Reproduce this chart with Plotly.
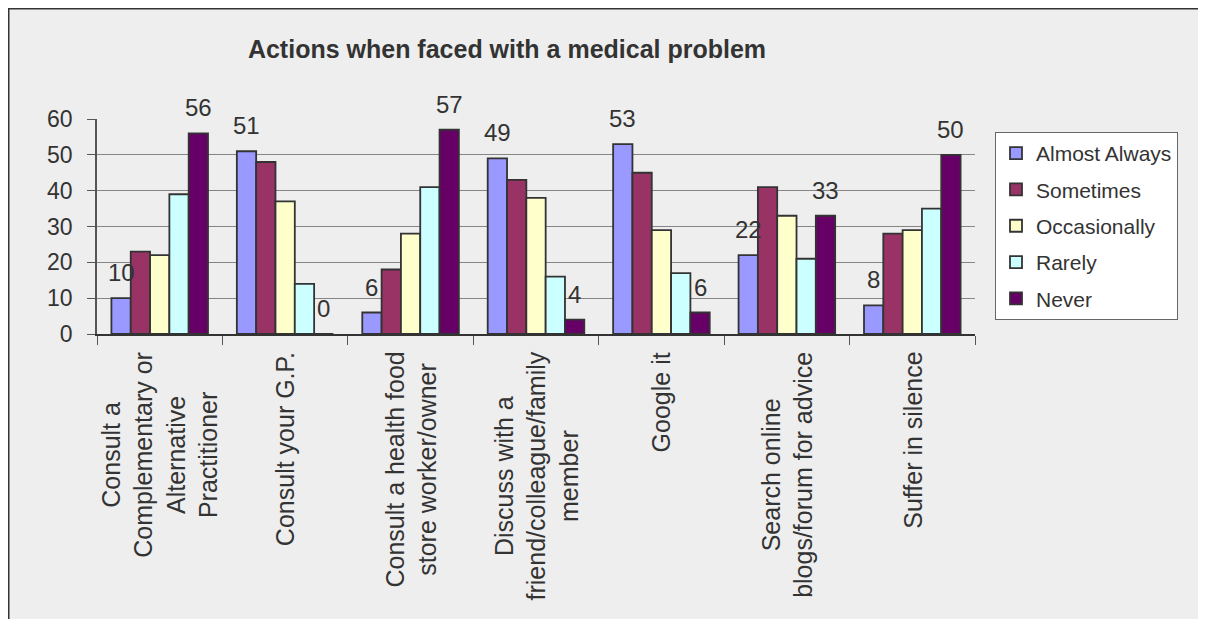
import plotly.graph_objects as go

categories = [
    "Consult a<br>Complementary or<br>Alternative<br>Practitioner",
    "Consult your G.P.",
    "Consult a health food<br>store worker/owner",
    "Discuss with a<br>friend/colleague/family<br>member",
    "Google it",
    "Search online<br>blogs/forum for advice",
    "Suffer in silence",
]
series_names = ["Almost Always", "Sometimes", "Occasionally", "Rarely", "Never"]
almost_always = [10, 51, 6, 49, 53, 22, 8]
sometimes = [23, 48, 18, 43, 45, 41, 28]
occasionally = [22, 37, 28, 38, 29, 33, 29]
rarely = [39, 14, 41, 16, 17, 21, 35]
never = [56, 0, 57, 4, 6, 33, 50]
labelled_series = [0, 4]  # series whose values are printed above bars

series_values = [almost_always, sometimes, occasionally, rarely, never]
colors = ["#9999ff", "#993366", "#ffffcc", "#ccffff", "#660066"]
y_ticks = [0, 10, 20, 30, 40, 50, 60]

OFF = 8  # page body margin
W, H = 1206 - OFF, 619 - OFF
# plot area in screen pixels
SL, SR, ST, SB = 97, 975, 119, 334
L, R, T, B = SL - OFF, SR - OFF, ST - OFF, SB - OFF
FONT = "Liberation Sans, Arial, sans-serif"
TXT = "#333333"
BARGAP = 0.23


def px_x(sx):
    return (sx - OFF - L) / (R - L)


def px_y(sy):
    return (B - (sy - OFF)) / (B - T)


fig = go.Figure()
keys = list(range(len(categories)))
for j, (name, vals) in enumerate(zip(series_names, series_values)):
    fig.add_trace(go.Bar(
        name=name, x=keys, y=vals,
        marker=dict(color=colors[j], line=dict(color="#333333", width=1.8)),
        legendgroup=name,
    ))

annotations = []
n = len(series_names)
bw = (1 - BARGAP) / n
for j in labelled_series:
    off = -(1 - BARGAP) / 2 + (j + 0.5) * bw
    for i, v in enumerate(series_values[j]):
        annotations.append(dict(
            x=i + off, y=v, xref="x", yref="y", text=str(v), showarrow=False,
            yanchor="bottom", xanchor="center", yshift=10,
            font=dict(family=FONT, size=24, color=TXT),
        ))

for i, c in enumerate(categories):
    annotations.append(dict(
        x=i, y=0, xref="x", yref="paper", text=c, showarrow=False,
        textangle=-90, align="center", xanchor="center", yanchor="top",
        yshift=-16, font=dict(family=FONT, size=25, color=TXT),
    ))

shapes = [
    dict(type="line", xref="paper", yref="paper", x0=px_x(8.5), x1=px_x(8.5),
         y0=px_y(8), y1=px_y(630), line=dict(color="#333333", width=2)),
    dict(type="line", xref="paper", yref="paper", x0=px_x(8), x1=px_x(1215),
         y0=px_y(8.5), y1=px_y(8.5), line=dict(color="#333333", width=2)),
]

fig.update_layout(
    width=W, height=H,
    margin=dict(l=L, r=W - R, t=T, b=H - B, autoexpand=False),
    paper_bgcolor="#eeeeee", plot_bgcolor="#eeeeee",
    barmode="group", bargap=BARGAP, bargroupgap=0,
    showlegend=True,
    title=dict(text="<b>Actions when faced with a medical problem</b>",
               x=px_x(507), xref="paper", xanchor="center",
               y=1 - (49 - OFF) / H, yref="container", yanchor="middle",
               font=dict(family=FONT, size=25, color=TXT)),
    legend=dict(x=px_x(995), y=px_y(132), xanchor="left", yanchor="top",
                bgcolor="white", bordercolor="#666666", borderwidth=1,
                font=dict(family=FONT, size=21, color=TXT),
                tracegroupgap=6, itemwidth=30),
    xaxis=dict(type="linear", range=[-0.5, len(categories) - 0.5],
               tickvals=[k - 0.5 for k in range(len(categories) + 1)],
               showticklabels=False, ticks="outside", ticklen=9,
               tickcolor="#555555", showline=True, linecolor="#333333",
               linewidth=1.5, showgrid=False, zeroline=False),
    yaxis=dict(range=[0, 60], tickvals=y_ticks, ticks="outside", ticklen=8,
               tickcolor="#555555", showline=True, linecolor="#555555",
               linewidth=1.5, showgrid=True, gridcolor="#858585", gridwidth=1,
               zeroline=False, ticklabelstandoff=10,
               tickfont=dict(family=FONT, size=23, color=TXT)),
    annotations=annotations,
    shapes=shapes,
)

fig.write_html("out.html")
